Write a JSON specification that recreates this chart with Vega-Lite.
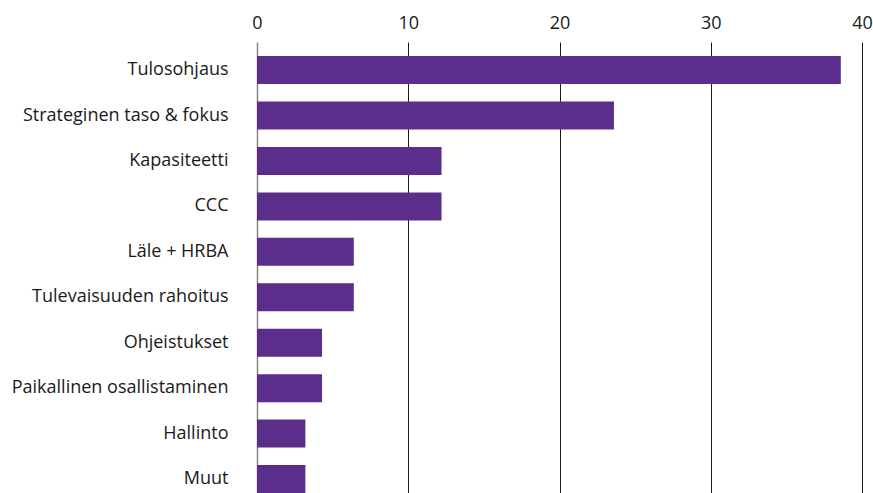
{
  "$schema": "https://vega.github.io/schema/vega-lite/v6.json",
  "autosize": {"type": "none"},
  "padding": {"left": 257, "top": 42, "right": 11, "bottom": 0},
  "width": 605,
  "height": 451,
  "background": "white",
  "data": {
    "values": [
      {"kategoria": "Tulosohjaus", "arvo": 38.6},
      {"kategoria": "Strateginen taso & fokus", "arvo": 23.6},
      {"kategoria": "Kapasiteetti", "arvo": 12.2},
      {"kategoria": "CCC", "arvo": 12.2},
      {"kategoria": "Läle + HRBA", "arvo": 6.4},
      {"kategoria": "Tulevaisuuden rahoitus", "arvo": 6.4},
      {"kategoria": "Ohjeistukset", "arvo": 4.3},
      {"kategoria": "Paikallinen osallistaminen", "arvo": 4.3},
      {"kategoria": "Hallinto", "arvo": 3.2},
      {"kategoria": "Muut", "arvo": 3.2}
    ]
  },
  "mark": {"type": "bar", "color": "#5B2E8C"},
  "encoding": {
    "y": {
      "field": "kategoria",
      "type": "nominal",
      "sort": null,
      "scale": {"paddingInner": 0.384, "paddingOuter": 0.155, "align": 1},
      "axis": {
        "title": null,
        "domain": false,
        "ticks": false,
        "labelPadding": 29,
        "labelLimit": 300,
        "labelFont": "Open Sans",
        "labelFontSize": 18,
        "labelColor": "#1a1a1a",
        "grid": false
      }
    },
    "x": {
      "field": "arvo",
      "type": "quantitative",
      "scale": {"domain": [0, 40], "nice": false},
      "axis": {
        "orient": "top",
        "title": null,
        "values": [0, 10, 20, 30, 40],
        "domain": false,
        "ticks": false,
        "labelPadding": 10,
        "labelFont": "Open Sans",
        "labelFontSize": 18,
        "labelColor": "#1a1a1a",
        "labelFlush": false,
        "grid": true,
        "gridColor": {"condition": {"test": "datum.value === 0", "value": "#888888"}, "value": "#1a1a1a"},
        "gridWidth": {"condition": {"test": "datum.value === 0", "value": 1.5}, "value": 1},
        "gridOpacity": 1
      }
    }
  },
  "config": {"view": {"stroke": null}}
}
